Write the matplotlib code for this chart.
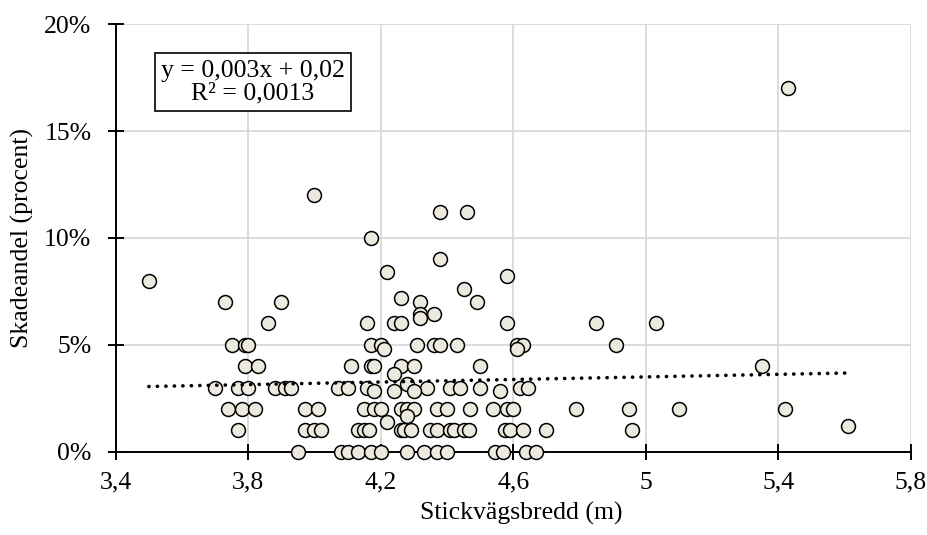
import numpy as np
import matplotlib
matplotlib.use('Agg')
import matplotlib.pyplot as plt
from matplotlib.ticker import FuncFormatter

# Stickvägsbredd (m) och skadeandel (%) per mätpunkt, avlästa rad för rad
bredd = [
    # spridda punkter
    3.50, 3.73, 3.90, 3.86, 4.00, 4.17, 4.22, 4.26, 4.32, 4.32, 4.32, 4.36,
    4.38, 4.46, 4.38, 4.45, 4.49, 4.58, 4.16, 4.24, 4.26, 4.58, 4.85, 5.03, 5.43,
    # ca 5 %
    3.75, 3.79, 3.80, 4.17, 4.20, 4.31, 4.36, 4.38, 4.43, 4.61, 4.63, 4.91, 4.21, 4.61,
    # ca 4 %
    3.79, 3.83, 4.11, 4.17, 4.18, 4.26, 4.30, 4.50, 5.35, 4.24,
    # ca 3 %
    3.70, 3.77, 3.80, 3.88, 3.91, 3.93, 4.07, 4.10, 4.16, 4.34, 4.41, 4.44,
    4.50, 4.62, 4.645, 4.18, 4.24, 4.28, 4.30, 4.56,
    # ca 2 %
    3.74, 3.78, 3.82, 3.97, 4.01, 4.15, 4.18, 4.20, 4.26, 4.28, 4.30, 4.37,
    4.40, 4.47, 4.54, 4.58, 4.60, 4.79, 4.95, 5.10, 5.42, 4.28, 4.22,
    # ca 1 %
    3.77, 3.97, 4.00, 4.02, 4.13, 4.15, 4.165, 4.26, 4.27, 4.29, 4.35, 4.37,
    4.41, 4.42, 4.45, 4.465, 4.575, 4.59, 4.63, 4.70, 4.96, 5.61,
    # 0 %
    3.95, 4.08, 4.10, 4.13, 4.17, 4.20, 4.28, 4.33, 4.37, 4.40, 4.545, 4.57, 4.64, 4.67,
]
skadeandel = [
    8.0, 7.0, 7.0, 6.0, 12.0, 10.0, 8.4, 7.2, 7.0, 6.45, 6.25, 6.43,
    11.2, 11.2, 9.0, 7.6, 7.0, 8.2, 6.0, 6.0, 6.0, 6.0, 6.0, 6.0, 17.0,
    5, 5, 5, 5, 5, 5, 5, 5, 5, 5, 5, 5, 4.8, 4.8,
    4, 4, 4, 4, 4, 4, 4, 4, 4, 3.65,
    3, 3, 3, 3, 3, 3, 3, 3, 3, 3, 3, 3,
    3, 3, 3, 2.85, 2.85, 3.17, 2.85, 2.82,
    2, 2, 2, 2, 2, 2, 2, 2, 2, 2, 2, 2,
    2, 2, 2, 2, 2, 2, 2, 2, 2, 1.65, 1.4,
    1, 1, 1, 1, 1, 1, 1, 1, 1, 1, 1, 1,
    1, 1, 1, 1, 1, 1, 1, 1, 1, 1.2,
    0, 0, 0, 0, 0, 0, 0, 0, 0, 0, 0, 0, 0, 0,
]

# trendlinje enligt Excel: y = 0,003x + 0,02 (andel, ej procent)
k_trend = 0.003
m_trend = 0.02
r2_txt = "0,0013"

x_ticks = [3.4, 3.8, 4.2, 4.6, 5.0, 5.4, 5.8]
y_ticks = [0, 5, 10, 15, 20]

plt.rcParams['font.family'] = ['Liberation Serif', 'DejaVu Serif']
plt.rcParams['font.size'] = 18.5

fig = plt.figure(figsize=(9.28, 5.35), dpi=100)
ax = fig.add_axes([0.1247, 0.1557, 0.8567, 0.7989])

ax.set_xlim(3.4, 5.8)
ax.set_ylim(0, 20)
ax.set_xticks(x_ticks)
ax.set_yticks(y_ticks)
ax.xaxis.set_major_formatter(FuncFormatter(lambda v, p: ('%g' % round(v, 2)).replace('.', ',')))
ax.yaxis.set_major_formatter(FuncFormatter(lambda v, p: '%d%%' % v))

ax.grid(True, color='#D9D9D9', linewidth=1.3, zorder=0)
ax.set_axisbelow(True)
for s in ['top', 'right']:
    ax.spines[s].set_visible(False)
for s in ['left', 'bottom']:
    ax.spines[s].set_linewidth(1.4)
    ax.spines[s].set_zorder(2.5)
ax.tick_params(direction='inout', length=11, width=1.4, colors='black')
ax.tick_params(axis='x', pad=9)
ax.tick_params(axis='y', pad=12)

ax.scatter(bredd, skadeandel, s=100, facecolor='#ECEADF', edgecolor='black',
           linewidths=1.1, zorder=3, clip_on=False)

# trendlinje mellan minsta och största bredd
xt = np.array([min(bredd), max(bredd)])
yt = (k_trend * xt + m_trend) * 100
ax.plot(xt, yt, color='black', linewidth=2.6, linestyle=(0, (0.05, 2.3)),
        dash_capstyle='round', zorder=4)

eq_txt = "y = " + ("%g" % k_trend).replace('.', ',') + "x + " + ("%g" % m_trend).replace('.', ',')
ax.text(0.1727, 0.865, eq_txt + "\nR² = " + r2_txt, transform=ax.transAxes,
        ha='center', va='center', multialignment='center', linespacing=1.05,
        bbox=dict(boxstyle='square,pad=0.25', facecolor='white', edgecolor='black', linewidth=1.2),
        zorder=5)

ax.set_xlabel('Stickvägsbredd (m)', labelpad=6)
ax.xaxis.label.set_x(0.51)
ax.set_ylabel('Skadeandel (procent)', labelpad=7)

fig.savefig('out.png', dpi=100)
